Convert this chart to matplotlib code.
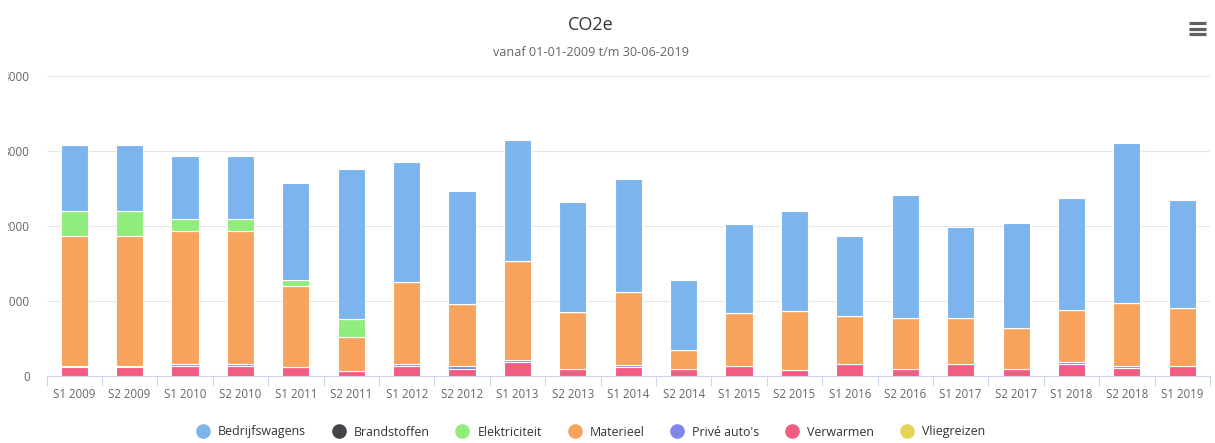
import matplotlib
matplotlib.use('Agg')
import matplotlib.pyplot as plt
from matplotlib.lines import Line2D
from matplotlib.patches import Rectangle
import numpy as np

# Chart data
periods = ['S1 2009', 'S2 2009', 'S1 2010', 'S2 2010', 'S1 2011', 'S2 2011', 'S1 2012',
           'S2 2012', 'S1 2013', 'S2 2013', 'S1 2014', 'S2 2014', 'S1 2015', 'S2 2015',
           'S1 2016', 'S2 2016', 'S1 2017', 'S2 2017', 'S1 2018', 'S2 2018', 'S1 2019']

bedrijfswagens = [884, 884, 840, 840, 1294, 2000, 1606, 1512, 1618, 1467, 1507,
                  934, 1192, 1328, 1067, 1635, 1209, 1405, 1494, 2129, 1449]
brandstoffen = [0] * 21
elektriciteit = [325, 325, 166, 166, 80, 232, 0, 0, 0, 0, 0,
                 0, 0, 0, 0, 0, 0, 0, 0, 0, 0]
materieel = [1730, 1730, 1767, 1767, 1075, 460, 1082, 817, 1311, 757, 974,
             259, 694, 788, 643, 687, 617, 544, 698, 835, 762]
prive_autos = [25, 25, 30, 30, 0, 0, 30, 45, 35, 0, 30,
               0, 0, 0, 0, 0, 0, 0, 30, 35, 0]
verwarmen = [115, 115, 133, 133, 125, 65, 135, 93, 185, 90, 118,
             90, 140, 78, 160, 92, 155, 92, 155, 105, 140]
vliegreizen = [0] * 21

y_ticks = [0, 1000, 2000, 3000, 4000]

# Highcharts stacks the first series on top, so draw from the bottom up
series = [
    ('Vliegreizen', vliegreizen, '#e4d354'),
    ('Verwarmen', verwarmen, '#f15c80'),
    ("Privé auto's", prive_autos, '#8085e9'),
    ('Materieel', materieel, '#f7a35c'),
    ('Elektriciteit', elektriciteit, '#90ed7d'),
    ('Brandstoffen', brandstoffen, '#434348'),
    ('Bedrijfswagens', bedrijfswagens, '#7cb5ec'),
]
legend_order = ['Bedrijfswagens', 'Brandstoffen', 'Elektriciteit', 'Materieel',
                "Privé auto's", 'Verwarmen', 'Vliegreizen']

plt.rcParams['font.family'] = ['Open Sans', 'DejaVu Sans']

W, H = 1215, 443
fig = plt.figure(figsize=(W / 100, H / 100), dpi=100)
fig.patch.set_facecolor('#ffffff')

left, right, top, bottom = 46.5, 1210, 76, 376
ax = fig.add_axes([left / W, 1 - bottom / H, (right - left) / W, (bottom - top) / H])
ax.set_facecolor('none')

x = np.arange(len(periods))
base = np.zeros(len(periods))
colors = {}
for name, vals, col in series:
    vals = np.array(vals, dtype=float)
    ax.bar(x, vals, bottom=base, width=0.49, color=col, edgecolor='white',
           linewidth=0.8, zorder=3)
    base += vals
    colors[name] = col

ax.set_xlim(-0.5, len(periods) - 0.5)
ax.set_ylim(0, 4000)
ax.set_yticks(y_ticks)
ax.set_yticklabels([str(v) for v in y_ticks])
ax.grid(axis='y', color='#e6e6e6', linewidth=0.8, zorder=0)
ax.set_axisbelow(True)

ax.set_xticks(x)
ax.set_xticklabels(periods)
ax.set_xticks(np.arange(-0.5, len(periods)), minor=True)
ax.tick_params(axis='x', which='major', length=0, pad=9, labelsize=8.3, labelcolor='#666666')
ax.tick_params(axis='x', which='minor', length=7.5, width=0.8, color='#ccd6eb')
ax.tick_params(axis='y', length=0, pad=12, labelsize=8.5, labelcolor='#666666')

for s in ['top', 'right', 'left']:
    ax.spines[s].set_visible(False)
ax.spines['bottom'].set_color('#ccd6eb')
ax.spines['bottom'].set_linewidth(0.8)

# titles (the original chart is centred a bit left of the cropped image centre)
cx = 591 / W
fig.text(cx, 1 - 25 / H, 'CO2e', ha='center', va='center', fontsize=13, color='#333333')
fig.text(cx, 1 - 53 / H, 'vanaf 01-01-2009 t/m 30-06-2019', ha='center', va='center',
         fontsize=9.1, color='#666666')

# export menu icon
for yy in (23, 28.5, 34):
    fig.add_artist(Line2D([1188.5 / W, 1205.5 / W], [1 - yy / H, 1 - yy / H],
                          color='#606060', linewidth=2.3, solid_capstyle='butt'))

# legend
handles = [Line2D([], [], marker='o', linestyle='none', markersize=9.5,
                  markerfacecolor=colors[n], markeredgecolor=colors[n]) for n in legend_order]
fig.legend(handles, legend_order, loc='center', bbox_to_anchor=(cx, 1 - 432 / H),
           ncol=7, frameon=False, fontsize=8.9, handletextpad=0.72, columnspacing=2.15,
           labelcolor='#333333', handlelength=1.0)

# the reference screenshot is cut off on the left edge
fig.add_artist(Rectangle((0, 0), 8 / W, 1, transform=fig.transFigure,
                         facecolor='white', edgecolor='none', zorder=10))

fig.savefig('out.png', dpi=100)
